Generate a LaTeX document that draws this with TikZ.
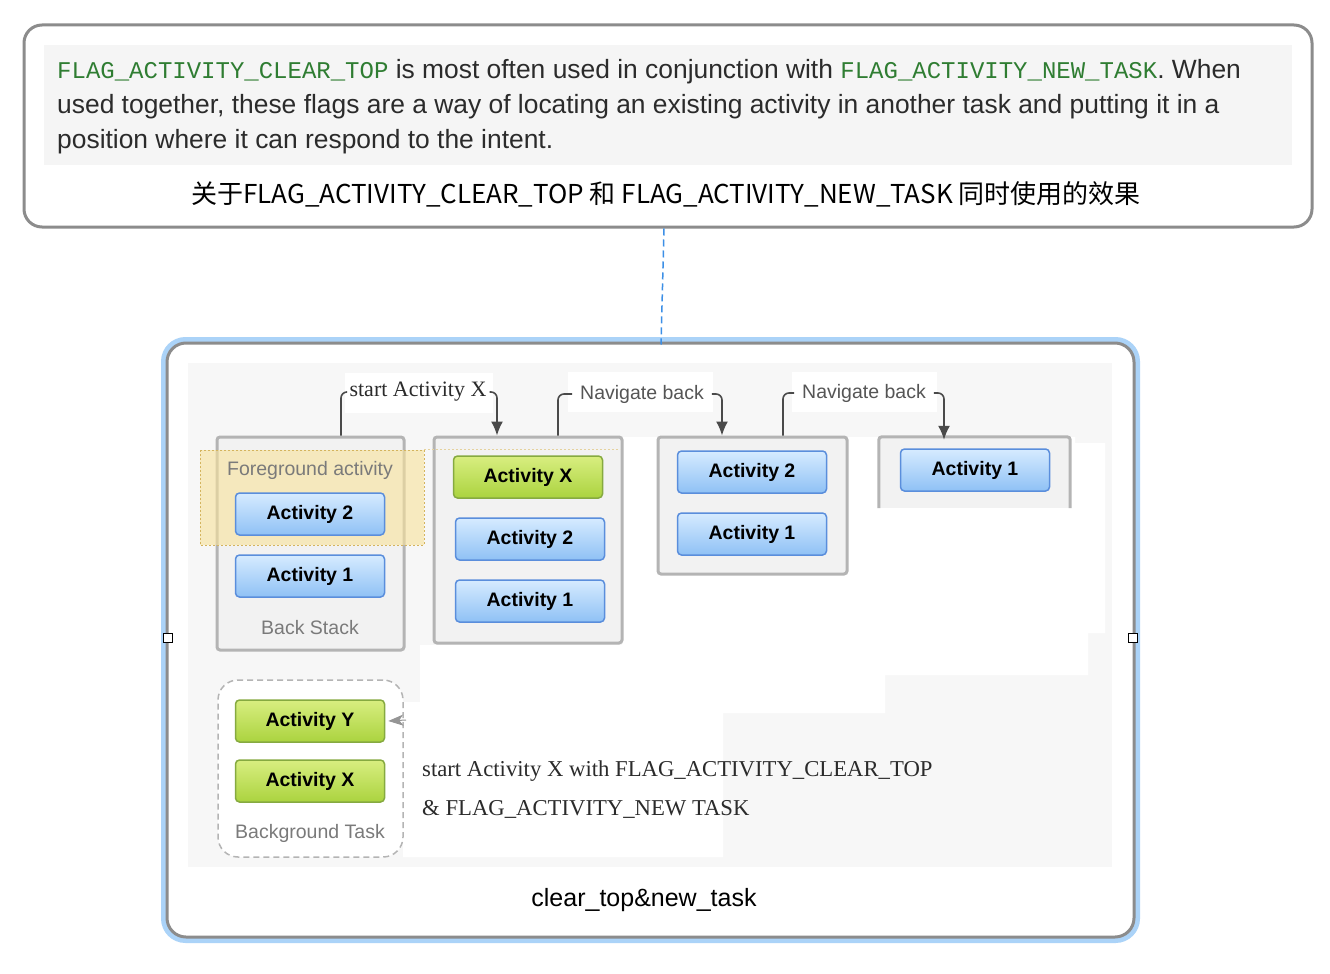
\documentclass[tikz,border=0pt]{standalone}
\usepackage{fontspec}
\usetikzlibrary{arrows.meta,calc}
\newfontfamily\arialf{Liberation Sans}
\newfontfamily\serf{Liberation Serif}
\newfontfamily\courf{Liberation Mono}
\newfontfamily\cjk{Noto Sans CJK SC}
\definecolor{imggray}{HTML}{F7F7F7}
\definecolor{boxfill}{HTML}{F2F2F2}
\definecolor{boxline}{HTML}{B4B4B4}
\definecolor{bluetop}{HTML}{D6EBFF}
\definecolor{bluebot}{HTML}{8FC1F5}
\definecolor{blueline}{HTML}{5A8EDC}
\definecolor{greentop}{HTML}{D8EE80}
\definecolor{greenbot}{HTML}{ABD33F}
\definecolor{greenline}{HTML}{86AA40}
\definecolor{labgray}{HTML}{7A7A7A}
\definecolor{navgray}{HTML}{555555}
\definecolor{connc}{HTML}{4A4A4A}
\definecolor{glow}{HTML}{ABD3F8}
\definecolor{frame}{HTML}{8C8C8C}
\definecolor{band}{HTML}{F5F5F5}
\definecolor{flaggreen}{HTML}{2F7D32}
\definecolor{dashblue}{HTML}{3C8FE6}
\definecolor{partext}{HTML}{2B2B2B}
\definecolor{hlfill}{HTML}{F8E29A}
\definecolor{hlline}{HTML}{D4B45E}
\begin{document}
\begin{tikzpicture}[x=1pt,y=-1pt,
  act/.style={rounded corners=4pt, minimum width=149pt, minimum height=42pt, line width=1.5pt, inner sep=0pt,
     font=\arialf\bfseries\fontsize{19.5}{22}\selectfont, text=black},
  blueact/.style={act, draw=blueline, top color=bluetop, bottom color=bluebot},
  greenact/.style={act, draw=greenline, top color=greentop, bottom color=greenbot},
  stackbox/.style={draw=boxline, line width=3pt, fill=boxfill, rounded corners=3pt, inner sep=0pt},
  graylab/.style={font=\arialf\fontsize{19.5}{22}\selectfont, text=labgray, inner sep=0pt},
  navlab/.style={font=\arialf\fontsize{19.5}{22}\selectfont, text=navgray, inner xsep=8pt, inner ysep=2pt},
  serlab/.style={font=\serf\fontsize{22}{24}\selectfont, text=partext, inner xsep=3pt, inner ysep=2pt},
  conn/.style={draw=connc, line width=1.6pt, rounded corners=6pt},
  tip/.style={-{Latex[length=14pt,width=12pt]}},
  partxt/.style={font=\arialf\fontsize{26.4}{35}\selectfont, text=partext, inner sep=0pt, anchor=base west},
  handle/.style={draw=black, line width=1.5pt, fill=white, minimum size=9pt, inner sep=0pt}
]
\useasboundingbox (0,0) rectangle (1330,974);
\fill[white] (0,0) rectangle (1330,974);

% ---------- top box ----------
\node[draw=frame, line width=3pt, rounded corners=18pt, fill=white, minimum width=1288pt, minimum height=202pt, inner sep=0pt] (top) at (668,126) {};
\fill[band] (44,45) rectangle (1292,165);
\node[partxt] (par1) at (57,78) {{\courf\fontsize{24}{35}\selectfont\color{flaggreen}FLAG\_ACTIVITY\_CLEAR\_TOP} is most often used in conjunction with {\courf\fontsize{24}{35}\selectfont\color{flaggreen}FLAG\_ACTIVITY\_NEW\_TASK}. When};
\node[partxt] (par2) at (57,113) {used together, these flags are a way of locating an existing activity in another task and putting it in a};
\node[partxt] (par3) at (57,148) {position where it can respond to the intent.};
\node[font=\cjk\fontsize{26}{28}\selectfont, text=black, inner sep=0pt] (cap1) at (666,194) {关于FLAG\_ACTIVITY\_CLEAR\_TOP 和 FLAG\_ACTIVITY\_NEW\_TASK 同时使用的效果};

% ---------- bottom box ----------
\draw[glow, line width=5pt, rounded corners=22pt] (163.5,339.5) rectangle (1137.5,940.5);
\node[draw=frame, line width=3pt, rounded corners=19pt, fill=white, minimum width=967pt, minimum height=594pt, inner sep=0pt] (bot) at (650.5,640) {};
\draw[dashblue, line width=1.5pt, dash pattern=on 7pt off 4pt] ([xshift=-4pt]top.south) -- ([xshift=10.5pt,yshift=-3pt]bot.north);

% image background
\fill[imggray] (188,363) rectangle (1112,867);
\fill[white] (622,437) -- (1075,437) -- (1075,443) -- (1105,443) -- (1105,633) -- (1088,633) -- (1088,675)
  -- (885,675) -- (885,713) -- (723,713) -- (723,857) -- (403,857) -- (403,702) -- (420,702) -- (420,645)
  -- (622,645) -- cycle;
\fill[white] (345,373) rectangle (493,413);
\fill[white] (568,372) rectangle (713,412);
\fill[white] (792,372) rectangle (937,412);

% stacks
\node[stackbox, minimum width=187pt, minimum height=213pt] (box1) at (310.5,543.5) {};
\node[stackbox, minimum width=188pt, minimum height=206pt] (box2) at (528,540) {};
\node[stackbox, minimum width=189pt, minimum height=137pt] (box3) at (752.5,505.5) {};
\node[fill=boxfill, minimum width=191pt, minimum height=71pt, inner sep=0pt] (box4) at (974.5,472.5) {};
\draw[boxline, line width=3pt, rounded corners=3pt] (box4.south west) -- (box4.north west) -- (box4.north east) -- (box4.south east);

% foreground highlight
\draw[hlline, line width=0.8pt, dash pattern=on 2pt off 2pt, fill=hlfill, fill opacity=0.6] (200,450) rectangle (424,545);
\draw[hlline!60, line width=0.6pt, dash pattern=on 2pt off 2pt] (424,449) -- (620,449);

\node[graylab] (fg) at (310,470) {Foreground activity};
\node[blueact] (b1a2) at (310,514) {Activity 2};
\node[blueact] (b1a1) at (310,576) {Activity 1};
\node[graylab] (bs) at (310,628) {Back Stack};

\node[greenact] (b2ax) at (528,477) {Activity X};
\node[blueact] (b2a2) at (530,539) {Activity 2};
\node[blueact] (b2a1) at (530,601) {Activity 1};

\node[blueact] (b3a2) at (752,472) {Activity 2};
\node[blueact] (b3a1) at (752,534) {Activity 1};

\node[blueact] (b4a1) at (975,470) {Activity 1};

% labels and connectors
\node[serlab] (lab1) at (418,392) {start Activity X};
\node[navlab] (nav1) at (642,394) {Navigate back};
\node[navlab] (nav2) at (864,393) {Navigate back};

\draw[conn] ([xshift=30.5pt]box1.north) |- (lab1.west);
\draw[conn, tip] (lab1.east) -| ([xshift=-31pt]box2.north);
\draw[conn] ([xshift=30pt]box2.north) |- (nav1.west);
\draw[conn, tip] (nav1.east) -| ([xshift=-30.5pt]box3.north);
\draw[conn] ([xshift=30.5pt]box3.north) |- (nav2.west);
\draw[conn, tip] (nav2.east) -| ([xshift=-30.5pt,yshift=-3pt]box4.north);

% background task
\node[draw=boxline, line width=1.5pt, dash pattern=on 6pt off 4pt, rounded corners=20pt, fill=white, minimum width=185pt, minimum height=177pt, inner sep=0pt] (bgt) at (310.5,768.5) {};
\node[greenact] (bgay) at (310,721) {Activity Y};
\node[greenact] (bgax) at (310,781) {Activity X};
\node[graylab] (bgl) at (310,833) {Background Task};
\coordinate (yarr) at (406,720);
\draw[draw=labgray!80, line width=1pt, -{Stealth[length=15pt,width=11pt,inset=4pt]}] (yarr) -- ([xshift=3pt]bgay.east);

\node[serlab, font=\serf\fontsize{22.7}{24}\selectfont, inner sep=0pt, anchor=base west] (t1) at (422,776) {start Activity X with FLAG\_ACTIVITY\_CLEAR\_TOP};
\node[serlab, font=\serf\fontsize{22.7}{24}\selectfont, inner sep=0pt, anchor=base west] (t2) at (422,815) {\& FLAG\_ACTIVITY\_NEW TASK};

\node[font=\arialf\fontsize{25}{28}\selectfont, text=black, inner sep=0pt] (cap2) at (644,900) {clear\_top\&new\_task};

\node[handle] (h1) at (168,638) {};
\node[handle] (h2) at (1133,638) {};
\end{tikzpicture}
\end{document}
